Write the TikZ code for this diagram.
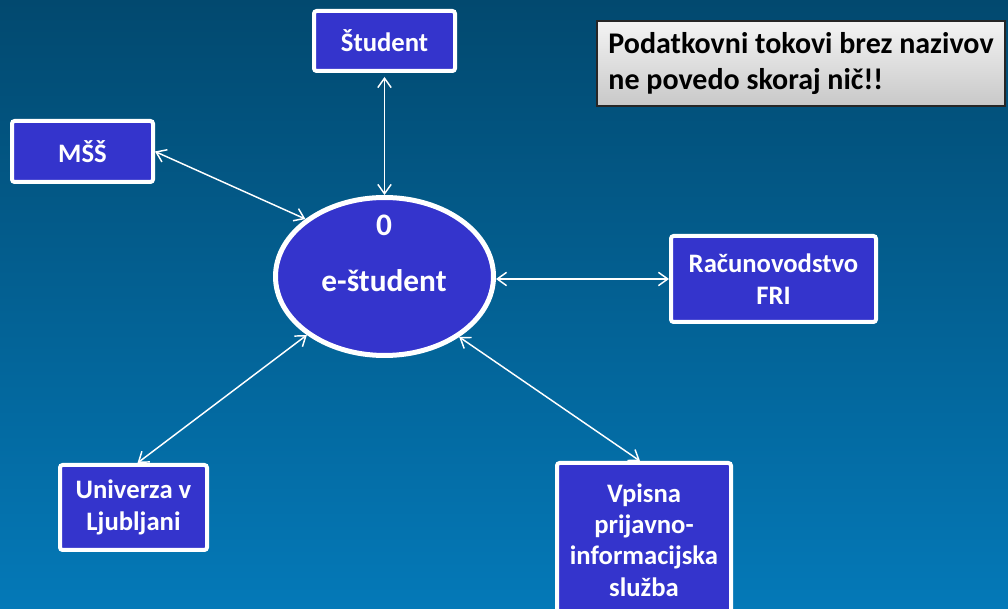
\documentclass[tikz,border=0pt]{standalone}
\usepackage{fontspec}
\setmainfont{Carlito}
\usetikzlibrary{arrows.meta,shapes.geometric}
\definecolor{bgtop}{HTML}{02496F}
\definecolor{bgbot}{HTML}{0479B8}
\definecolor{boxfill}{HTML}{3434CC}
\definecolor{notetop}{HTML}{F4F4F4}
\definecolor{notebot}{HTML}{C8C8C8}
\begin{document}
\begin{tikzpicture}[x=0.75pt,y=-0.75pt,
  entity/.style={rectangle, draw=white, line width=3pt, fill=boxfill,
    rounded corners=2pt, text=white, align=center, inner sep=0pt,
    font=\bfseries\fontsize{20}{23.5}\selectfont},
  process/.style={ellipse, draw=white, line width=3.75pt, fill=boxfill,
    inner sep=0pt, minimum width=163.5pt, minimum height=118.5pt},
  proctext/.style={text=white, inner sep=0pt,
    font=\bfseries\fontsize{23.5}{27}\selectfont},
  note/.style={rectangle, draw=black!85, line width=1.5pt,
    top color=notetop, bottom color=notebot, align=left, inner sep=0pt,
    text=black, font=\bfseries\fontsize{22.5}{26.5}\selectfont,
    minimum width=306pt, minimum height=64pt},
  flow/.style={draw=white, line width=1.1pt,
    {Straight Barb[length=7pt,width=10pt]}-{Straight Barb[length=7pt,width=10pt]}}]

% background
\shade[top color=bgtop, bottom color=bgbot] (0,0) rectangle (1008,609);
\useasboundingbox (0,0) rectangle (1008,609);
\clip (0,0) rectangle (1008,609);

% central process
\node[process] (proc) at (384.5,276.5) {};
\node[proctext] (procnum) at (384,225) {0};
\node[proctext] (procname) at (384,281) {e-študent};

% external entities
\node[entity, minimum width=105.75pt, minimum height=45pt] (stud) at (384.5,41) {Študent};
\node[entity, minimum width=105.75pt, minimum height=45.75pt] (mss) at (82.5,151.5) {MŠŠ};
\node[entity, minimum width=153.75pt, minimum height=64.5pt] (rac) at (773.5,279) {Računovodstvo\\FRI};
\node[entity, minimum width=110.25pt, minimum height=63.75pt] (univ) at (133.5,507.5) {Univerza v\\Ljubljani};
\node[entity, minimum width=130.5pt, minimum height=115.5pt] (vps) at (644,540) {Vpisna\\prijavno-\\informacijska\\služba};

% remark
\node[note] (remark) at (801,63.5) {Podatkovni tokovi brez nazivov\\ne povedo skoraj nič!!};

% data flows
\draw[flow] ([yshift=-3pt]stud.south) -- (proc.north);
\draw[flow] (mss.east) -- (proc.144.7);
\draw[flow] (proc.east |- rac.west) -- (rac.west);
\draw[flow] ([xshift=3pt]univ.north) -- (proc.217.4);
\draw[flow] ([xshift=-3pt]vps.north) -- (proc.321.9);
\end{tikzpicture}
\end{document}
